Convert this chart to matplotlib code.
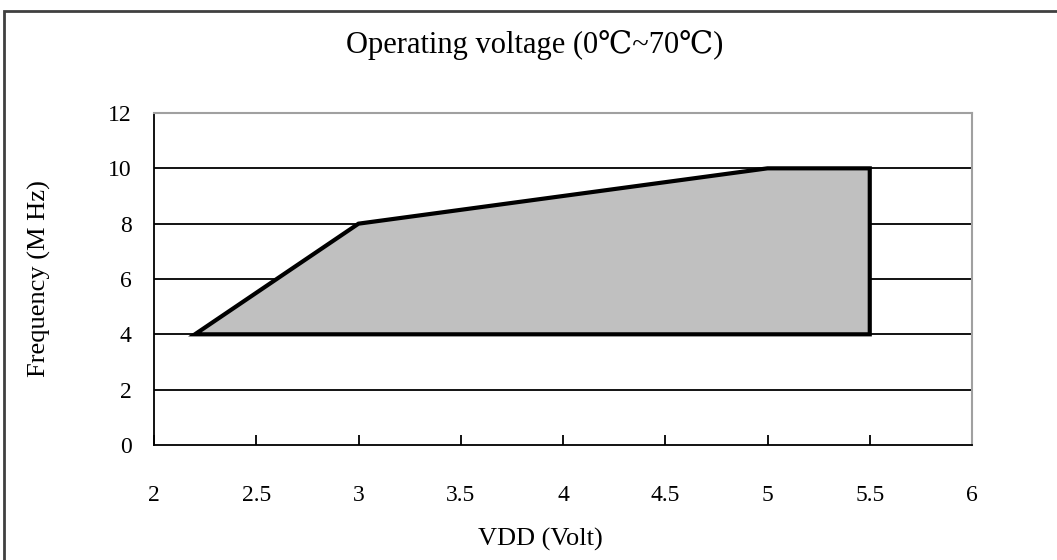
import matplotlib
matplotlib.use('Agg')
import matplotlib.pyplot as plt
from matplotlib.patches import Polygon, Rectangle

# Operating region boundary (VDD in volts, frequency in MHz)
vdd = [2.2, 3.0, 5.0, 5.5, 5.5]
freq = [4, 8, 10, 10, 4]

x_ticks = [2, 2.5, 3, 3.5, 4, 4.5, 5, 5.5, 6]
x_labels = ['2', '2.5', '3', '3.5', '4', '4.5', '5', '5.5', '6']
y_ticks = [0, 2, 4, 6, 8, 10, 12]

serif = ['Liberation Serif', 'DejaVu Serif']
plt.rcParams['font.family'] = serif

fig = plt.figure(figsize=(10.57, 5.6), dpi=100)
ax = fig.add_axes([0.1457, 0.2054, 0.7739, 0.5928])

# horizontal gridlines
for y in y_ticks[1:-1]:
    ax.axhline(y, color='black', lw=1.3, zorder=1)

region = Polygon(list(zip(vdd, freq)), closed=True, facecolor='#c0c0c0',
                 edgecolor='black', lw=3, joinstyle='miter', zorder=2)
ax.add_patch(region)

ax.set_xlim(2, 6)
ax.set_ylim(0, 12)
ax.set_xticks(x_ticks)
ax.set_xticklabels(x_labels)
ax.set_yticks(y_ticks)

ax.tick_params(axis='x', direction='in', length=7, width=1.3, pad=29, labelsize=17)
ax.tick_params(axis='y', length=0, pad=16, labelsize=17)

for side in ['left', 'bottom']:
    ax.spines[side].set_color('black')
    ax.spines[side].set_linewidth(1.3)
for side in ['top', 'right']:
    ax.spines[side].set_color('#a0a0a0')
    ax.spines[side].set_linewidth(1.5)

ax.set_xlabel('VDD (Volt)', fontsize=19)
ax.xaxis.set_label_coords(0.472, -0.25)
ax.set_ylabel('Frequency (M Hz)', fontsize=19)
ax.yaxis.set_label_coords(-0.126, 0.5)
fig.text(0.506, 0.92, 'Operating voltage (0℃~70℃)', ha='center', va='center',
         fontsize=22, family=serif)

# frame around the whole chart
fig.patches.append(Rectangle((0.004, -0.01), 1.2, 0.99, transform=fig.transFigure,
                             fill=False, edgecolor='#404040', lw=2))

fig.savefig('out.png', dpi=100)
